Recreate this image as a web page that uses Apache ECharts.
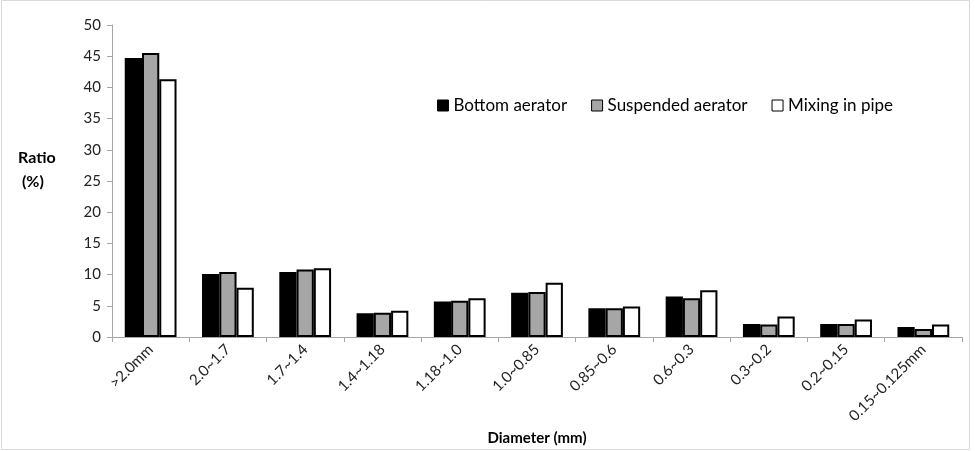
<!DOCTYPE html>
<html><head><meta charset="utf-8">
<script src="https://cdn.jsdelivr.net/npm/echarts@6/dist/echarts.min.js"></script>
<style>html,body{margin:0;padding:0;background:#fff}#c{width:975px;height:451px}</style>
</head><body><div id="c"></div>
<script>
const categories = ['>2.0mm','2.0~1.7','1.7~1.4','1.4~1.18','1.18~1.0','1.0~0.85','0.85~0.6','0.6~0.3','0.3~0.2','0.2~0.15','0.15~0.125mm'];
const bottomAerator = [44.7, 10.1, 10.4, 3.8, 5.7, 7.1, 4.6, 6.5, 2.1, 2.1, 1.6];
const suspendedAerator = [45.5, 10.4, 10.8, 3.9, 5.8, 7.2, 4.6, 6.2, 2.0, 2.1, 1.3];
const mixingInPipe = [41.3, 7.9, 11.0, 4.2, 6.2, 8.7, 4.9, 7.5, 3.3, 2.8, 2.0];
const yTicks = {min: 0, max: 50, interval: 5};

const font = 'Lato, "Open Sans", sans-serif';
const chart = echarts.init(document.getElementById('c'), null, {renderer: 'canvas'});
const mk = (name, data, color) => ({
  name, type: 'bar', data, barGap: '0%', barCategoryGap: '33%',
  itemStyle: {color, borderColor: '#000', borderWidth: 2},
  emphasis: {disabled: true}
});
chart.setOption({
  animation: false,
  textStyle: {fontFamily: font},
  graphic: [
    {type: 'rect', shape: {x: 1.5, y: 0.5, width: 968, height: 449}, style: {fill: 'none', stroke: '#d9d9d9', lineWidth: 1}, silent: true},
    {type: 'text', left: 18, top: 146, style: {text: 'Ratio\n (%)', font: 'bold 16px ' + font, fill: '#000', lineHeight: 24}}
  ],
  grid: {left: 112, right: 13, top: 25, bottom: 99, containLabel: false},
  legend: {
    top: 92, left: 432, itemGap: 24, itemWidth: 11, itemHeight: 11,
    textStyle: {fontSize: 17, color: '#000', fontFamily: font},
    icon: 'rect',
    itemStyle: {borderColor: '#000', borderWidth: 1},
    data: ['Bottom aerator', 'Suspended aerator', 'Mixing in pipe']
  },
  xAxis: {
    type: 'category', data: categories,
    name: 'Diameter (mm)', nameLocation: 'middle', nameGap: 91,
    nameTextStyle: {fontWeight: 'bold', fontSize: 15, color: '#000'},
    axisLine: {lineStyle: {color: '#a6a6a6'}},
    axisTick: {show: true, length: 5, lineStyle: {color: '#a6a6a6'}},
    axisLabel: {rotate: 45, fontSize: 15, color: '#222', margin: 10, interval: 0}
  },
  yAxis: {
    type: 'value', min: yTicks.min, max: yTicks.max, interval: yTicks.interval,
    axisLine: {show: true, lineStyle: {color: '#a6a6a6'}},
    axisTick: {show: true, length: 5, lineStyle: {color: '#a6a6a6'}},
    splitLine: {show: false},
    axisLabel: {fontSize: 15, color: '#222', margin: 11}
  },
  series: [
    mk('Bottom aerator', bottomAerator, '#000'),
    mk('Suspended aerator', suspendedAerator, '#a6a6a6'),
    mk('Mixing in pipe', mixingInPipe, '#fff')
  ]
});
</script></body></html>
